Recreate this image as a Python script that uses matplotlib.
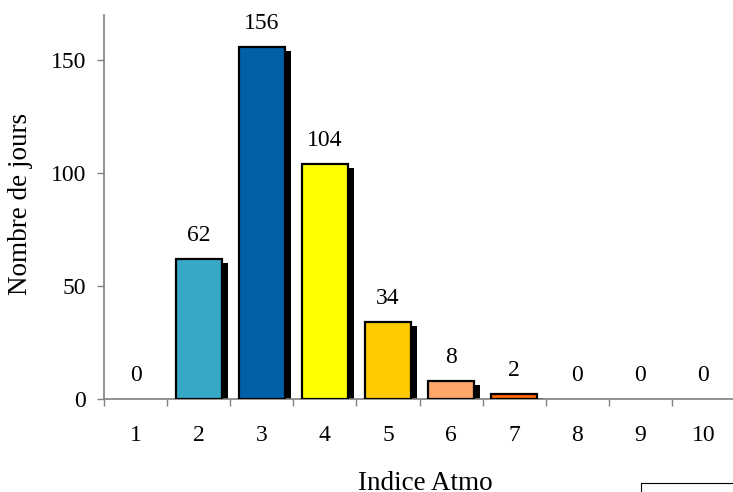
import matplotlib.pyplot as plt
from matplotlib.patches import Rectangle

# nombre de jours par indice Atmo
indices = [1, 2, 3, 4, 5, 6, 7, 8, 9, 10]
jours = [0, 62, 156, 104, 34, 8, 2, 0, 0, 0]
couleurs = ["#ffffff", "#36a9c6", "#0060a8", "#ffff00", "#ffcc00",
            "#ffa66a", "#ff6600", "#ffffff", "#ffffff", "#ffffff"]

plt.rcParams["font.family"] = ["Liberation Serif", "DejaVu Serif"]

W, H = 733, 492
fig = plt.figure(figsize=(W / 100, H / 100), dpi=100)
ax = fig.add_axes([104 / W, 93 / H, 631 / W, 384 / H])

largeur = 0.73
dx = 6 / 63.1      # decalage de l'ombre en x (unites donnees)
dy = 4 / 2.26      # decalage de l'ombre en y

for x, v, c in zip(indices, jours, couleurs):
    if v <= 0:
        continue
    h_ombre = max(v - dy, 0)
    ax.bar(x + dx, h_ombre, width=largeur, color="black", linewidth=0, zorder=2)
    ax.bar(x, v, width=largeur, color=c, edgecolor="black", linewidth=1.6, zorder=3)

for x, v in zip(indices, jours):
    ax.annotate(str(v), (x, v), xytext=(0, 13), textcoords="offset points",
                ha="center", va="baseline", fontsize=17)

ax.set_xlim(0.5, 10.5)
ax.set_ylim(0, 170)
ax.set_yticks([0, 50, 100, 150])
ax.set_xticks(indices)
ax.set_xticklabels([str(i) for i in indices])
ax.set_xticks([i + 0.5 for i in range(0, 10)], minor=True)

ax.tick_params(axis="y", direction="out", length=5, width=1, color="#808080",
               labelsize=17, pad=8)
ax.tick_params(axis="x", which="major", length=0, labelsize=17, pad=19)
ax.tick_params(axis="x", which="minor", direction="out", length=5, width=1,
               color="#808080")

for s in ["top", "right"]:
    ax.spines[s].set_visible(False)
for s in ["left", "bottom"]:
    ax.spines[s].set_color("#808080")
    ax.spines[s].set_linewidth(1.2)

fig.text(425 / W, (H - 490) / H, "Indice Atmo", ha="center", va="baseline",
         fontsize=19.5)
fig.text(21 / W, (H - 204) / H, "Nombre de jours", rotation=90,
         ha="center", va="center", fontsize=19.5)

fig.patches.append(Rectangle((641 / W, -0.1), 0.5, 0.1 + 9 / H,
                             transform=fig.transFigure, fill=False,
                             edgecolor="black", linewidth=0.8))

fig.savefig("out.png", dpi=100)
